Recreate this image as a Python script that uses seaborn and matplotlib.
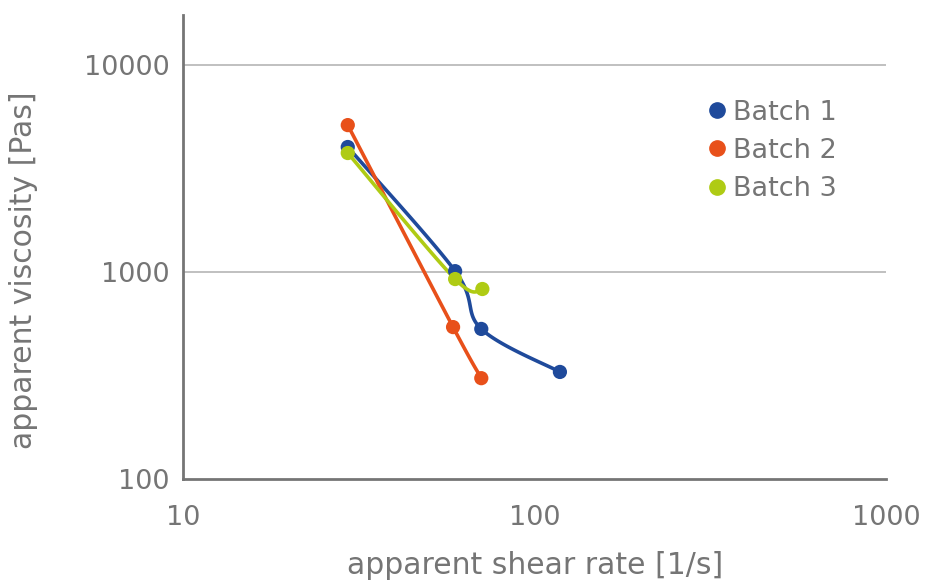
import numpy as np
import pandas as pd
import matplotlib
matplotlib.use("Agg")
import matplotlib.pyplot as plt
import seaborn as sns
from matplotlib.lines import Line2D

# ---- data ----
batches = ["Batch 1", "Batch 2", "Batch 3"]
shear_b1 = [29.4, 59.4, 70.5, 118.0]
visc_b1 = [4020, 1010, 531, 329]
shear_b2 = [29.4, 58.6, 70.5]
visc_b2 = [5130, 542, 307]
shear_b3 = [29.4, 59.4, 71.0]
visc_b3 = [3760, 925, 828]
colors = ["#1F4A9B", "#E8501A", "#AFCB14"]
x_ticks = [10, 100, 1000]
y_ticks = [100, 1000, 10000]

sns.set_theme(style="white")
plt.rcParams['font.family'] = ['DejaVu Sans']
gray = "#757575"

fig = plt.figure(figsize=(9.25, 5.81), dpi=100)
ax = fig.add_axes([0.198, 0.1756, 0.76, 0.798])


def smooth(xs, ys, n=40):
    # Catmull-Rom style smoothing in log space (like spreadsheet "smoothed line")
    lx, ly = np.log10(xs), np.log10(ys)
    P = np.column_stack([lx, ly])
    out = [P[0]]
    for i in range(len(P) - 1):
        p0 = P[i - 1] if i > 0 else P[i]
        p1, p2 = P[i], P[i + 1]
        p3 = P[i + 2] if i + 2 < len(P) else P[i + 1]
        c1 = p1 + (p2 - p0) / 6.0
        c2 = p2 - (p3 - p1) / 6.0
        t = np.linspace(0, 1, n)[1:, None]
        seg = ((1 - t) ** 3) * p1 + 3 * ((1 - t) ** 2) * t * c1 + 3 * (1 - t) * t ** 2 * c2 + t ** 3 * p2
        out.extend(seg)
    out = np.array(out)
    return 10 ** out[:, 0], 10 ** out[:, 1]


series = [(shear_b1, visc_b1), (shear_b2, visc_b2), (shear_b3, visc_b3)]
for (sx, sy), name, c in zip(series, batches, colors):
    cx, cy = smooth(sx, sy)
    ax.plot(cx, cy, color=c, lw=2.6, zorder=2, solid_capstyle="round")
    df = pd.DataFrame({"x": sx, "y": sy})
    sns.scatterplot(data=df, x="x", y="y", color=c, s=105, edgecolor="none", ax=ax, zorder=3)

ax.set_xscale("log")
ax.set_yscale("log")
ax.set_xlim(10, 1000)
ax.set_ylim(100, 17400)
ax.set_xticks(x_ticks)
ax.set_xticklabels([str(v) for v in x_ticks])
ax.set_yticks(y_ticks)
ax.set_yticklabels([str(v) for v in y_ticks])
ax.minorticks_off()

for s in ["top", "right"]:
    ax.spines[s].set_visible(False)
for s in ["left", "bottom"]:
    ax.spines[s].set_color(gray)
    ax.spines[s].set_linewidth(2)

for yv in [1000, 10000]:
    ax.axhline(yv, color="#b5b5b5", lw=1.2, zorder=1)

ax.tick_params(axis="x", which="major", direction="inout", length=26, width=2, color=gray,
               labelsize=19.5, labelcolor=gray, pad=6)
ax.tick_params(axis="y", which="major", length=0, labelsize=19.5, labelcolor=gray, pad=10)

ax.set_xlabel("apparent shear rate [1/s]", fontsize=21.5, color=gray, labelpad=14)
ax.set_ylabel("apparent viscosity [Pas]", fontsize=21.5, color=gray)
ax.yaxis.set_label_coords(-0.207, 0.45)

handles = [Line2D([], [], marker="o", ls="none", color=c, markersize=11) for c in colors]
leg = ax.legend(handles, batches, loc="upper left", bbox_to_anchor=(0.7165, 0.8415), frameon=False,
                fontsize=19.5, handletextpad=-0.1, labelspacing=0.45, borderaxespad=0,
                handlelength=1.4)
for t in leg.get_texts():
    t.set_color(gray)

fig.savefig("out.png", dpi=100)
